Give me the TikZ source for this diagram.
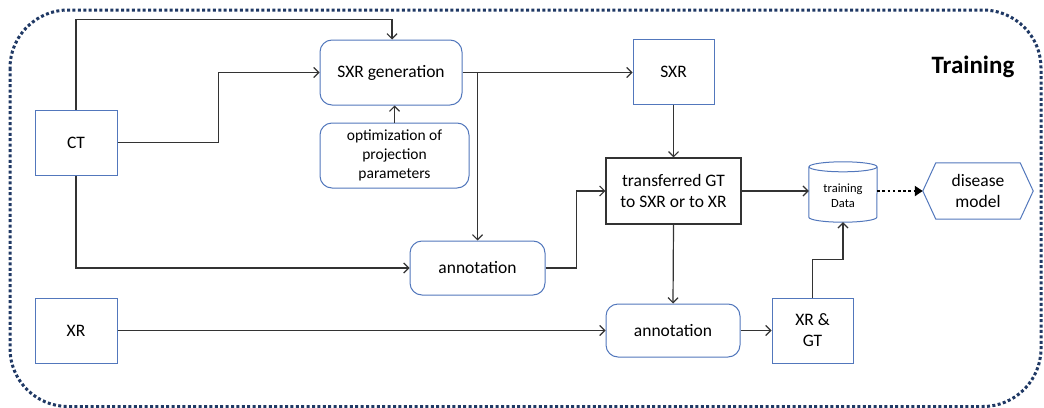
\documentclass[tikz,border=0pt]{standalone}
\usepackage{fontspec}
\setmainfont{Carlito}
\usetikzlibrary{arrows.meta,calc}
\definecolor{nb}{HTML}{5277BC}
\definecolor{navy}{HTML}{1F3864}
\definecolor{conncol}{HTML}{333333}
\tikzset{
  base/.style={inner sep=0pt, align=center, font=\fontsize{17.5}{21}\selectfont, text=black},
  bluebox/.style={base, draw=nb, line width=1pt},
  roundbox/.style={bluebox, rounded corners=12pt},
  blackbox/.style={base, draw=conncol, line width=1.1pt},
  conn/.style={draw=conncol, line width=1.2pt, -{Straight Barb[length=5pt,width=10pt]}},
}
\begin{document}
\begin{tikzpicture}[x=1pt,y=-1pt]
\useasboundingbox (0,0) rectangle (1044,407);
% dotted frame
\draw[navy, line width=3pt, dash pattern=on 3pt off 2.4pt, rounded corners=58pt] (10,10) rectangle (1041,406.5);
\node[font=\fontsize{25}{30}\selectfont\bfseries] (title) at (973,67) {Training};

% nodes
\node[bluebox, minimum width=82pt, minimum height=65pt] (ct) at (76,142.5) {CT};
\node[bluebox, minimum width=82pt, minimum height=65pt] (xr) at (76,330.5) {XR};
\node[roundbox, minimum width=142pt, minimum height=65pt] (gen) at (391,72.5) {SXR generation};
\node[roundbox, minimum width=149pt, minimum height=65pt, font=\fontsize{15.5}{19}\selectfont] (opt) at (394.5,155.5) {optimization of\\projection\\parameters};
\node[bluebox, minimum width=81pt, minimum height=65pt] (sxr) at (673.5,71.5) {SXR};
\node[blackbox, minimum width=135pt, minimum height=66pt] (tgt) at (673.5,191) {transferred GT\\to SXR or to XR};
\node[roundbox, minimum width=135pt, minimum height=54pt] (ann1) at (477.5,268) {annotation};
\node[roundbox, minimum width=134pt, minimum height=53pt] (ann2) at (673,330.5) {annotation};
\node[bluebox, minimum width=81pt, minimum height=65pt] (xgt) at (812.5,330.5) {XR \&\\GT};

% cylinder
\node[base, minimum width=68pt, minimum height=60pt] (cyl) at (843,192) {};
\node[base, font=\fontsize{12.5}{15}\selectfont] (cyltext) at (843,195.5) {training\\Data};
\draw[nb, line width=1pt] ([yshift=-5pt]cyl.north west) -- ([yshift=5pt]cyl.south west)
  arc[start angle=180, end angle=360, x radius=34pt, y radius=5pt] -- ([yshift=-5pt]cyl.north east);
\draw[nb, line width=1pt] ([yshift=-5pt]cyl.north) ellipse [x radius=34pt, y radius=5pt];

% hexagon
\node[base, minimum width=110pt, minimum height=56pt] (hex) at (978,191) {disease\\model};
\draw[nb, line width=1pt] (hex.west) -- ([xshift=13pt]hex.north west) -- ([xshift=-13pt]hex.north east)
  -- (hex.east) -- ([xshift=-13pt]hex.south east) -- ([xshift=13pt]hex.south west) -- cycle;

% connectors
\draw[conn] (ct.north) -- ++(0,-90) -| ([xshift=1pt]gen.north);
\draw[conn] (ct.east) -- ++(101,0) |- (gen.west);
\draw[conn] (ct.south) |- (ann1.west);
\draw[conn] (opt.north) -- (opt.north |- gen.south);
\draw[conn] (gen.east) -- (gen.east -| sxr.west);
\draw[conn] (gen.east -| ann1.north) -- (ann1.north);
\draw[conn] (sxr.south) -- (tgt.north);
\draw[conn] (ann1.east) -- ++(31,0) |- (tgt.west);
\draw[conn] (tgt.east) -- (tgt.east -| cyl.west);
\draw[conn] (tgt.south) -- (ann2.north);
\draw[conn] (xr.east) -- (ann2.west);
\draw[conn] (ann2.east) -- (xgt.west);
\draw[conn] (xgt.north) -- ++(0,-38) -| (cyl.south);
\draw[black, line width=2.6pt, dash pattern=on 2.6pt off 2.6pt, -{Triangle[length=8pt,width=10pt]}] (cyl.east |- hex.west) -- (hex.west);
\end{tikzpicture}
\end{document}
